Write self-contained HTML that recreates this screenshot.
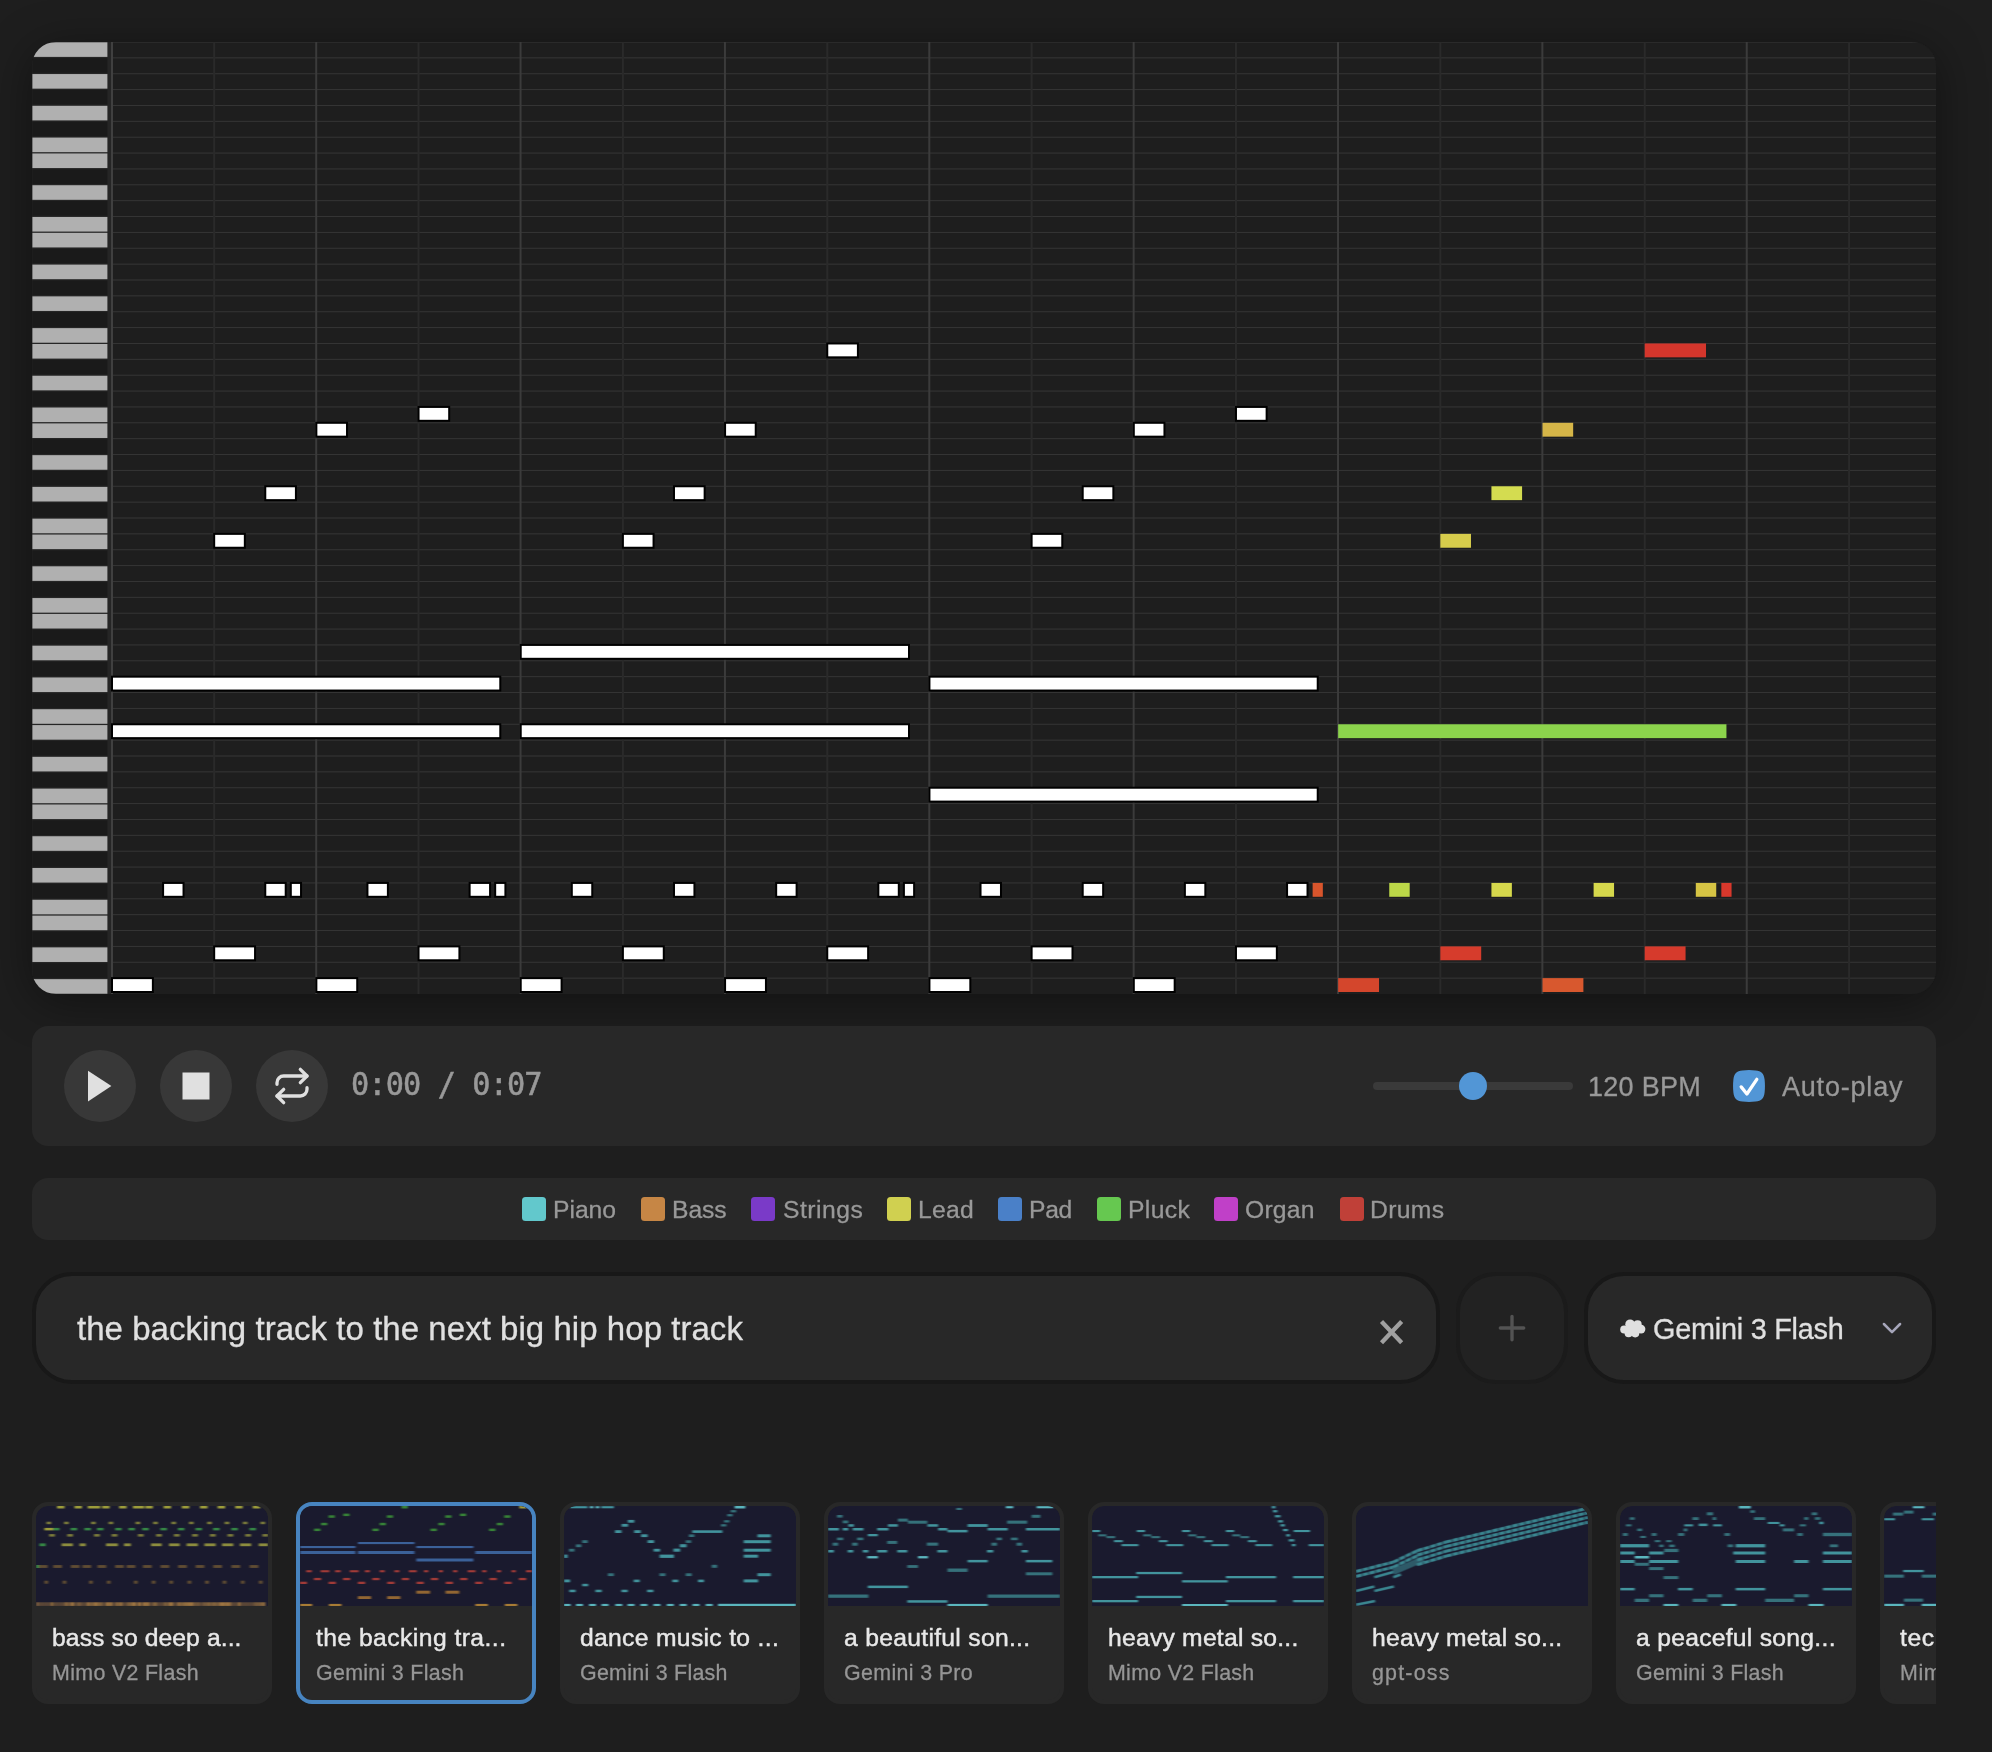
<!DOCTYPE html>
<html lang="en">
<head>
<meta charset="utf-8">
<title>Piano roll</title>
<style>
*{box-sizing:border-box;margin:0;padding:0}
html,body{width:1992px;height:1752px;overflow:hidden;background:#1e1e1e}
body{position:relative;font-family:"Liberation Sans",sans-serif;color:#e0e0e0;-webkit-font-smoothing:antialiased}
.abs{position:absolute}
.t{position:absolute;white-space:nowrap;line-height:1;display:block;will-change:transform;-webkit-text-stroke:.3px currentColor}

/* piano roll */
.rollwrap{position:absolute;left:32px;top:42px;width:1904px;height:952px;border-radius:24px;overflow:hidden;background:#1e1e1e}
.rollshadow{position:absolute;left:32px;top:42px;width:1904px;height:952px;border-radius:24px;box-shadow:0 8px 48px rgba(0,0,0,.42)}
.roll{display:block}

/* transport */
.transport{position:absolute;left:32px;top:1026px;width:1904px;height:120px;border-radius:16px;background:#282828}
.cbtn{position:absolute;top:24px;width:72px;height:72px;border-radius:50%;background:#383838}
.cbtn svg{position:absolute;left:0;top:0}
.time{top:45.3px;font-family:"DejaVu Sans Mono","Liberation Mono",monospace;font-size:28.6px;color:#999;-webkit-text-stroke:.5px #999;transform:scale(1.06,1.145);transform-origin:0 78%}
.track{position:absolute;left:1341px;top:56px;width:200px;height:8px;border-radius:4px;background:#3a3a3a}
.thumb{position:absolute;left:1426.7px;top:45.6px;width:28.6px;height:28.6px;border-radius:50%;background:#5296d6}
.bpm{top:48px;font-size:27px;color:#999}
.check{position:absolute;left:1701px;top:44px;width:32px;height:32px}
.auto{top:48px;font-size:27px;color:#999}

/* legend */
.legend{position:absolute;left:32px;top:1178px;width:1904px;height:62px;border-radius:16px;background:#282828}
.sw{position:absolute;top:19px;width:24px;height:24px;border-radius:3.5px}
.lg{top:19.5px;font-size:24.7px;color:#999;line-height:24px}

/* prompt row */
.prompt{position:absolute;left:32px;top:1272px;width:1408px;height:112px;border-radius:40px;background:#282828;border:4px solid #181818}
.prompt .txt{top:36px;font-size:33px;line-height:34px;color:#e0e0e0}
.prompt svg{position:absolute}
.plus{position:absolute;left:1456px;top:1272px;width:112px;height:112px;border-radius:40px;background:#222;border:4px solid #1b1b1b}
.plus svg{position:absolute;left:0;top:0}
.select{position:absolute;left:1584px;top:1272px;width:352px;height:112px;border-radius:40px;background:#282828;border:4px solid #181818}
.select .txt{top:38px;font-size:28.8px;line-height:30px;color:#e0e0e0}
.select svg{position:absolute}

/* cards */
.cards{position:absolute;left:32px;top:1502px;width:1904px;height:202px;overflow:hidden}
.card{position:absolute;top:0;width:240px;height:202px;border-radius:16px;background:#282828;border:4px solid #282828;overflow:hidden}
.card.sel{border-color:#4784c0}
.card svg{display:block;position:absolute;left:0;top:0;border-radius:12px 12px 0 0}
.card .ct{top:118.7px;font-size:24.7px;line-height:26px;color:#e8e8e8;font-weight:normal;-webkit-text-stroke:.45px #e8e8e8}
.card .cs{top:155.7px;font-size:21.4px;line-height:22px;color:#969696}

</style>
</head>
<body>
<div class="rollshadow"></div>
<div class="rollwrap">
<svg class="roll" width="1904" height="952" viewBox="0 0 1904 952">
<rect width="1904" height="952" fill="#1e1e1e"/>
<g fill="#363636">
<rect x="80" y="-0.5" width="1824" height="1"/>
<rect x="80" y="15.37" width="1824" height="1"/>
<rect x="80" y="31.23" width="1824" height="1"/>
<rect x="80" y="47.1" width="1824" height="1"/>
<rect x="80" y="62.97" width="1824" height="1"/>
<rect x="80" y="78.83" width="1824" height="1"/>
<rect x="80" y="94.7" width="1824" height="1"/>
<rect x="80" y="110.57" width="1824" height="1"/>
<rect x="80" y="126.43" width="1824" height="1"/>
<rect x="80" y="142.3" width="1824" height="1"/>
<rect x="80" y="158.17" width="1824" height="1"/>
<rect x="80" y="174.03" width="1824" height="1"/>
<rect x="80" y="189.9" width="1824" height="1"/>
<rect x="80" y="205.77" width="1824" height="1"/>
<rect x="80" y="221.63" width="1824" height="1"/>
<rect x="80" y="237.5" width="1824" height="1"/>
<rect x="80" y="253.37" width="1824" height="1"/>
<rect x="80" y="269.23" width="1824" height="1"/>
<rect x="80" y="285.1" width="1824" height="1"/>
<rect x="80" y="300.97" width="1824" height="1"/>
<rect x="80" y="316.83" width="1824" height="1"/>
<rect x="80" y="332.7" width="1824" height="1"/>
<rect x="80" y="348.57" width="1824" height="1"/>
<rect x="80" y="364.43" width="1824" height="1"/>
<rect x="80" y="380.3" width="1824" height="1"/>
<rect x="80" y="396.17" width="1824" height="1"/>
<rect x="80" y="412.03" width="1824" height="1"/>
<rect x="80" y="427.9" width="1824" height="1"/>
<rect x="80" y="443.77" width="1824" height="1"/>
<rect x="80" y="459.63" width="1824" height="1"/>
<rect x="80" y="475.5" width="1824" height="1"/>
<rect x="80" y="491.37" width="1824" height="1"/>
<rect x="80" y="507.23" width="1824" height="1"/>
<rect x="80" y="523.1" width="1824" height="1"/>
<rect x="80" y="538.97" width="1824" height="1"/>
<rect x="80" y="554.83" width="1824" height="1"/>
<rect x="80" y="570.7" width="1824" height="1"/>
<rect x="80" y="586.57" width="1824" height="1"/>
<rect x="80" y="602.43" width="1824" height="1"/>
<rect x="80" y="618.3" width="1824" height="1"/>
<rect x="80" y="634.17" width="1824" height="1"/>
<rect x="80" y="650.03" width="1824" height="1"/>
<rect x="80" y="665.9" width="1824" height="1"/>
<rect x="80" y="681.77" width="1824" height="1"/>
<rect x="80" y="697.63" width="1824" height="1"/>
<rect x="80" y="713.5" width="1824" height="1"/>
<rect x="80" y="729.37" width="1824" height="1"/>
<rect x="80" y="745.23" width="1824" height="1"/>
<rect x="80" y="761.1" width="1824" height="1"/>
<rect x="80" y="776.97" width="1824" height="1"/>
<rect x="80" y="792.83" width="1824" height="1"/>
<rect x="80" y="808.7" width="1824" height="1"/>
<rect x="80" y="824.57" width="1824" height="1"/>
<rect x="80" y="840.43" width="1824" height="1"/>
<rect x="80" y="856.3" width="1824" height="1"/>
<rect x="80" y="872.17" width="1824" height="1"/>
<rect x="80" y="888.03" width="1824" height="1"/>
<rect x="80" y="903.9" width="1824" height="1"/>
<rect x="80" y="919.77" width="1824" height="1"/>
<rect x="80" y="935.63" width="1824" height="1"/>
</g>
<g>
<rect x="181.18" y="0" width="2" height="952" fill="#2a2a2a"/>
<rect x="283.21" y="0" width="2" height="952" fill="#3b3b3b"/>
<rect x="385.54" y="0" width="2" height="952" fill="#2a2a2a"/>
<rect x="487.57" y="0" width="2" height="952" fill="#3b3b3b"/>
<rect x="589.9" y="0" width="2" height="952" fill="#2a2a2a"/>
<rect x="691.93" y="0" width="2" height="952" fill="#3b3b3b"/>
<rect x="794.26" y="0" width="2" height="952" fill="#2a2a2a"/>
<rect x="896.29" y="0" width="2" height="952" fill="#3b3b3b"/>
<rect x="998.62" y="0" width="2" height="952" fill="#2a2a2a"/>
<rect x="1100.65" y="0" width="2" height="952" fill="#3b3b3b"/>
<rect x="1202.98" y="0" width="2" height="952" fill="#2a2a2a"/>
<rect x="1305.01" y="0" width="2" height="952" fill="#3b3b3b"/>
<rect x="1407.34" y="0" width="2" height="952" fill="#2a2a2a"/>
<rect x="1509.37" y="0" width="2" height="952" fill="#3b3b3b"/>
<rect x="1611.7" y="0" width="2" height="952" fill="#2a2a2a"/>
<rect x="1713.73" y="0" width="2" height="952" fill="#3b3b3b"/>
<rect x="1816.06" y="0" width="2" height="952" fill="#2a2a2a"/>
</g>
<rect x="0" y="0" width="80" height="952" fill="#252525"/>
<g fill="#b0b0b0"><rect x="0.4" y="0.3" width="75" height="14.6"/><rect x="0.4" y="32.06" width="75" height="14.6"/><rect x="0.4" y="63.81" width="75" height="14.6"/><rect x="0.4" y="95.57" width="75" height="14.6"/><rect x="0.4" y="111.45" width="75" height="14.6"/><rect x="0.4" y="143.21" width="75" height="14.6"/><rect x="0.4" y="174.97" width="75" height="14.6"/><rect x="0.4" y="190.84" width="75" height="14.6"/><rect x="0.4" y="222.6" width="75" height="14.6"/><rect x="0.4" y="254.36" width="75" height="14.6"/><rect x="0.4" y="286.12" width="75" height="14.6"/><rect x="0.4" y="301.99" width="75" height="14.6"/><rect x="0.4" y="333.75" width="75" height="14.6"/><rect x="0.4" y="365.51" width="75" height="14.6"/><rect x="0.4" y="381.39" width="75" height="14.6"/><rect x="0.4" y="413.15" width="75" height="14.6"/><rect x="0.4" y="444.9" width="75" height="14.6"/><rect x="0.4" y="476.66" width="75" height="14.6"/><rect x="0.4" y="492.54" width="75" height="14.6"/><rect x="0.4" y="524.3" width="75" height="14.6"/><rect x="0.4" y="556.05" width="75" height="14.6"/><rect x="0.4" y="571.93" width="75" height="14.6"/><rect x="0.4" y="603.69" width="75" height="14.6"/><rect x="0.4" y="635.45" width="75" height="14.6"/><rect x="0.4" y="667.2" width="75" height="14.6"/><rect x="0.4" y="683.08" width="75" height="14.6"/><rect x="0.4" y="714.84" width="75" height="14.6"/><rect x="0.4" y="746.6" width="75" height="14.6"/><rect x="0.4" y="762.48" width="75" height="14.6"/><rect x="0.4" y="794.23" width="75" height="14.6"/><rect x="0.4" y="825.99" width="75" height="14.6"/><rect x="0.4" y="857.75" width="75" height="14.6"/><rect x="0.4" y="873.63" width="75" height="14.6"/><rect x="0.4" y="905.38" width="75" height="14.6"/><rect x="0.4" y="937.14" width="75" height="14.6"/></g>
<g fill="#1a1a1a"><rect x="0.4" y="16.18" width="75" height="14.6"/><rect x="0.4" y="47.94" width="75" height="14.6"/><rect x="0.4" y="79.69" width="75" height="14.6"/><rect x="0.4" y="127.33" width="75" height="14.6"/><rect x="0.4" y="159.09" width="75" height="14.6"/><rect x="0.4" y="206.72" width="75" height="14.6"/><rect x="0.4" y="238.48" width="75" height="14.6"/><rect x="0.4" y="270.24" width="75" height="14.6"/><rect x="0.4" y="317.87" width="75" height="14.6"/><rect x="0.4" y="349.63" width="75" height="14.6"/><rect x="0.4" y="397.27" width="75" height="14.6"/><rect x="0.4" y="429.02" width="75" height="14.6"/><rect x="0.4" y="460.78" width="75" height="14.6"/><rect x="0.4" y="508.42" width="75" height="14.6"/><rect x="0.4" y="540.17" width="75" height="14.6"/><rect x="0.4" y="587.81" width="75" height="14.6"/><rect x="0.4" y="619.57" width="75" height="14.6"/><rect x="0.4" y="651.33" width="75" height="14.6"/><rect x="0.4" y="698.96" width="75" height="14.6"/><rect x="0.4" y="730.72" width="75" height="14.6"/><rect x="0.4" y="778.35" width="75" height="14.6"/><rect x="0.4" y="810.11" width="75" height="14.6"/><rect x="0.4" y="841.87" width="75" height="14.6"/><rect x="0.4" y="889.51" width="75" height="14.6"/><rect x="0.4" y="921.26" width="75" height="14.6"/></g>
<rect x="79" y="0" width="2" height="952" fill="#404040"/>
<g fill="#fff" stroke="#000" stroke-width="2"><rect x="182.18" y="491.87" width="30.65" height="13.87"/><rect x="233.27" y="444.27" width="30.65" height="13.87"/><rect x="284.36" y="380.8" width="30.65" height="13.87"/><rect x="386.54" y="364.93" width="30.65" height="13.87"/><rect x="590.9" y="491.87" width="30.65" height="13.87"/><rect x="641.99" y="444.27" width="30.65" height="13.87"/><rect x="693.08" y="380.8" width="30.65" height="13.87"/><rect x="795.26" y="301.47" width="30.65" height="13.87"/><rect x="999.62" y="491.87" width="30.65" height="13.87"/><rect x="1050.71" y="444.27" width="30.65" height="13.87"/><rect x="1101.8" y="380.8" width="30.65" height="13.87"/><rect x="1203.98" y="364.93" width="30.65" height="13.87"/><rect x="80" y="634.67" width="388.28" height="13.87"/><rect x="80" y="682.27" width="388.28" height="13.87"/><rect x="488.72" y="602.93" width="388.28" height="13.87"/><rect x="488.72" y="682.27" width="388.28" height="13.87"/><rect x="897.44" y="634.67" width="388.28" height="13.87"/><rect x="897.44" y="745.73" width="388.28" height="13.87"/><rect x="131.09" y="840.93" width="20.44" height="13.87"/><rect x="233.27" y="840.93" width="20.44" height="13.87"/><rect x="335.45" y="840.93" width="20.44" height="13.87"/><rect x="437.63" y="840.93" width="20.44" height="13.87"/><rect x="539.81" y="840.93" width="20.44" height="13.87"/><rect x="641.99" y="840.93" width="20.44" height="13.87"/><rect x="744.17" y="840.93" width="20.44" height="13.87"/><rect x="846.35" y="840.93" width="20.44" height="13.87"/><rect x="948.53" y="840.93" width="20.44" height="13.87"/><rect x="1050.71" y="840.93" width="20.44" height="13.87"/><rect x="1152.89" y="840.93" width="20.44" height="13.87"/><rect x="1255.07" y="840.93" width="20.44" height="13.87"/><rect x="258.81" y="840.93" width="10.22" height="13.87"/><rect x="463.18" y="840.93" width="10.22" height="13.87"/><rect x="871.9" y="840.93" width="10.22" height="13.87"/><rect x="182.18" y="904.4" width="40.87" height="13.87"/><rect x="386.54" y="904.4" width="40.87" height="13.87"/><rect x="590.9" y="904.4" width="40.87" height="13.87"/><rect x="795.26" y="904.4" width="40.87" height="13.87"/><rect x="999.62" y="904.4" width="40.87" height="13.87"/><rect x="1203.98" y="904.4" width="40.87" height="13.87"/><rect x="80" y="936.13" width="40.87" height="13.87"/><rect x="284.36" y="936.13" width="40.87" height="13.87"/><rect x="488.72" y="936.13" width="40.87" height="13.87"/><rect x="693.08" y="936.13" width="40.87" height="13.87"/><rect x="897.44" y="936.13" width="40.87" height="13.87"/><rect x="1101.8" y="936.13" width="40.87" height="13.87"/></g>
<g><rect x="1408.34" y="491.87" width="30.65" height="13.87" fill="#d6cc4c"/><rect x="1459.43" y="444.27" width="30.65" height="13.87" fill="#d4dc50"/><rect x="1510.52" y="380.8" width="30.65" height="13.87" fill="#d6b648"/><rect x="1612.7" y="301.47" width="61.31" height="13.87" fill="#d4362c"/><rect x="1306.16" y="682.27" width="388.28" height="13.87" fill="#8cd44c"/><rect x="1357.25" y="840.93" width="20.44" height="13.87" fill="#bcd848"/><rect x="1459.43" y="840.93" width="20.44" height="13.87" fill="#d6d84c"/><rect x="1561.61" y="840.93" width="20.44" height="13.87" fill="#d6d84c"/><rect x="1663.79" y="840.93" width="20.44" height="13.87" fill="#d6c444"/><rect x="1280.62" y="840.93" width="10.22" height="13.87" fill="#d8552c"/><rect x="1689.34" y="840.93" width="10.22" height="13.87" fill="#d8382c"/><rect x="1408.34" y="904.4" width="40.87" height="13.87" fill="#d63c2c"/><rect x="1612.7" y="904.4" width="40.87" height="13.87" fill="#d63a2c"/><rect x="1306.16" y="936.13" width="40.87" height="13.87" fill="#d4462c"/><rect x="1510.52" y="936.13" width="40.87" height="13.87" fill="#d8582e"/></g>
</svg>
</div>

<div class="transport">
  <div class="cbtn" style="left:32px"><svg width="72" height="72" viewBox="0 0 72 72"><path d="M24 20.8 L47.4 36 L24 51.4 Z" fill="#e0e0e0"/></svg></div>
  <div class="cbtn" style="left:128px"><svg width="72" height="72" viewBox="0 0 72 72"><rect x="22.5" y="22.5" width="27" height="27" fill="#e0e0e0"/></svg></div>
  <div class="cbtn" style="left:224px"><svg width="72" height="72" viewBox="0 0 72 72"><g transform="translate(16 16) scale(1.6667)" fill="none" stroke="#e0e0e0" stroke-width="2" stroke-linecap="round" stroke-linejoin="round"><path d="m17 2 4 4-4 4"/><path d="M3 11v-1a4 4 0 0 1 4-4h14"/><path d="m7 22-4-4 4-4"/><path d="M21 13v1a4 4 0 0 1-4 4H3"/></g></svg></div>
  <span class="t time" style="left:319.4px;letter-spacing:-0.86px">0:00 / 0:07</span>
  <div class="track"></div>
  <div class="thumb"></div>
  <span class="t bpm" style="left:1555.6px;letter-spacing:0.28px">120 BPM</span>
  <svg class="check" viewBox="0 0 32 32"><path d="M9.5 .4 Q16 -.3 22.5 .4 C28.5 1 31 3.5 31.6 9.5 Q32.3 16 31.6 22.5 C31 28.5 28.5 31 22.5 31.6 Q16 32.3 9.5 31.6 C3.5 31 1 28.5 .4 22.5 Q-.3 16 .4 9.5 C1 3.5 3.5 1 9.5 .4 Z" fill="#5296d6"/><path d="M8.2 16.9 L13.9 24 L23.8 9.3" fill="none" stroke="#fff" stroke-width="3.3" stroke-linecap="round" stroke-linejoin="round"/></svg>
  <span class="t auto" style="left:1750px;letter-spacing:0.8px">Auto-play</span>
</div>

<div class="legend">
  <i class="sw" style="left:490px;background:#62c8cc"></i><span class="t lg" style="left:521.4px;letter-spacing:-0.03px">Piano</span>
  <i class="sw" style="left:609px;background:#c68645"></i><span class="t lg" style="left:639.8px;letter-spacing:-0.06px">Bass</span>
  <i class="sw" style="left:719px;background:#7a3ac8"></i><span class="t lg" style="left:750.6px;letter-spacing:0.5px">Strings</span>
  <i class="sw" style="left:855px;background:#d0d050"></i><span class="t lg" style="left:886px;letter-spacing:0.27px">Lead</span>
  <i class="sw" style="left:966px;background:#4a80c8"></i><span class="t lg" style="left:996.8px;letter-spacing:-0.3px">Pad</span>
  <i class="sw" style="left:1065px;background:#66c850"></i><span class="t lg" style="left:1095.6px;letter-spacing:0.35px">Pluck</span>
  <i class="sw" style="left:1182px;background:#c040c8"></i><span class="t lg" style="left:1213.4px;letter-spacing:0.2px">Organ</span>
  <i class="sw" style="left:1308px;background:#c04038"></i><span class="t lg" style="left:1338.2px;letter-spacing:0.34px">Drums</span>
</div>

<div class="prompt">
  <span class="t txt" style="left:41px;letter-spacing:0.04px">the backing track to the next big hip hop track</span>
  <svg style="left:1340px;top:40px" width="32" height="32" viewBox="0 0 32 32"><path d="M5.5 5.5 L25.65 26.7 M25.65 5.5 L5.5 26.7" stroke="#a0a0a0" stroke-width="4.3" fill="none"/></svg>
</div>
<div class="plus"><svg width="104" height="104" viewBox="0 0 104 104"><path d="M52 40.3 V63.7 M40.3 52 H63.7" stroke="#535353" stroke-width="3.35" stroke-linecap="round" fill="none"/></svg></div>
<div class="select">
  <svg style="left:32px;top:43px" width="26" height="19" viewBox="0 0 26 19"><g fill="#e0e0e0"><circle cx="10.1" cy="5.2" r="4.8"/><circle cx="17.6" cy="5.4" r="4.1"/><circle cx="4.2" cy="10.6" r="4"/><circle cx="21.1" cy="10.1" r="4.3"/><circle cx="8.6" cy="14.3" r="4"/><circle cx="15.2" cy="14.3" r="4.1"/><circle cx="12.6" cy="9.8" r="6.3"/></g></svg>
  <span class="t txt" style="left:64.8px;letter-spacing:-0.22px">Gemini 3 Flash</span>
  <svg style="left:294px;top:46px" width="22" height="14" viewBox="0 0 22 14"><path d="M1.9 2 L10 10.1 L18.1 2" fill="none" stroke="#a6a6ba" stroke-width="2.5" stroke-linecap="round" stroke-linejoin="round"/></svg>
</div>

<div class="cards">
<svg width="0" height="0" style="position:absolute"><defs><filter id="tb" x="-5%" y="-20%" width="110%" height="140%"><feGaussianBlur stdDeviation="1.1 0.7"/></filter></defs></svg>
<div class="card" style="left:0px"><svg width="232" height="100" viewBox="0 0 232 100"><rect width="232" height="100" fill="#1a1a2e"/><g filter="url(#tb)" opacity=".72"><rect x="21" y="0" width="7.5" height="2.5" fill="#d0d040"/><rect x="38.5" y="0" width="7.5" height="2.5" fill="#d0d040"/><rect x="66.1" y="0" width="7.5" height="2.5" fill="#d0d040"/><rect x="83.1" y="0" width="7.5" height="2.5" fill="#d0d040"/><rect x="109.4" y="0" width="7.5" height="2.5" fill="#d0d040"/><rect x="127.6" y="0" width="7.5" height="2.5" fill="#d0d040"/><rect x="145.8" y="0" width="7.5" height="2.5" fill="#d0d040"/><rect x="164" y="0" width="7.5" height="2.5" fill="#d0d040"/><rect x="181.6" y="0" width="7.5" height="2.5" fill="#d0d040"/><rect x="199.2" y="0" width="7.5" height="2.5" fill="#d0d040"/><rect x="216.7" y="0" width="7.5" height="2.5" fill="#d0d040"/><rect x="51.7" y="0" width="12.6" height="2.5" fill="#d0d040"/><rect x="96.9" y="0" width="11.3" height="2.5" fill="#d0d040"/><rect x="10.4" y="15.7" width="4.8" height="2.5" fill="#a0a040"/><rect x="28" y="15.7" width="4.8" height="2.5" fill="#a0a040"/><rect x="55" y="15.7" width="4.8" height="2.5" fill="#a0a040"/><rect x="72.5" y="15.7" width="4.8" height="2.5" fill="#a0a040"/><rect x="99.5" y="15.7" width="4.8" height="2.5" fill="#a0a040"/><rect x="117.1" y="15.7" width="4.8" height="2.5" fill="#a0a040"/><rect x="135.3" y="15.7" width="4.8" height="2.5" fill="#a0a040"/><rect x="152.9" y="15.7" width="4.8" height="2.5" fill="#a0a040"/><rect x="171.1" y="15.7" width="4.8" height="2.5" fill="#a0a040"/><rect x="188.6" y="15.7" width="4.8" height="2.5" fill="#a0a040"/><rect x="206.8" y="15.7" width="4.8" height="2.5" fill="#a0a040"/><rect x="224.4" y="15.7" width="4.8" height="2.5" fill="#a0a040"/><rect x="8.4" y="21.9" width="8.8" height="2.5" fill="#d0d040"/><rect x="17.2" y="21.9" width="6.3" height="2.5" fill="#40b050"/><rect x="34.6" y="21.9" width="6.5" height="2.5" fill="#40b050"/><rect x="48.4" y="21.9" width="6.5" height="2.5" fill="#40b050"/><rect x="61" y="21.9" width="6.5" height="2.5" fill="#40b050"/><rect x="79.2" y="21.9" width="6.5" height="2.5" fill="#40b050"/><rect x="92.4" y="21.9" width="6.5" height="2.5" fill="#40b050"/><rect x="106.2" y="21.9" width="6.5" height="2.5" fill="#40b050"/><rect x="124.4" y="21.9" width="6.5" height="2.5" fill="#40b050"/><rect x="141.9" y="21.9" width="6.5" height="2.5" fill="#40b050"/><rect x="159.5" y="21.9" width="6.5" height="2.5" fill="#40b050"/><rect x="177.1" y="21.9" width="6.5" height="2.5" fill="#40b050"/><rect x="195.3" y="21.9" width="6.5" height="2.5" fill="#40b050"/><rect x="213.5" y="21.9" width="6.5" height="2.5" fill="#40b050"/><rect x="13.1" y="28.1" width="5.8" height="2.5" fill="#a0a040"/><rect x="31.2" y="28.1" width="5.8" height="2.5" fill="#a0a040"/><rect x="58" y="28.1" width="5.8" height="2.5" fill="#a0a040"/><rect x="75.6" y="28.1" width="5.8" height="2.5" fill="#a0a040"/><rect x="101.9" y="28.1" width="5.8" height="2.5" fill="#a0a040"/><rect x="120.1" y="28.1" width="5.8" height="2.5" fill="#a0a040"/><rect x="137.9" y="28.1" width="5.8" height="2.5" fill="#a0a040"/><rect x="156.1" y="28.1" width="5.8" height="2.5" fill="#a0a040"/><rect x="173.9" y="28.1" width="5.8" height="2.5" fill="#a0a040"/><rect x="191.5" y="28.1" width="5.8" height="2.5" fill="#a0a040"/><rect x="209.2" y="28.1" width="5.8" height="2.5" fill="#a0a040"/><rect x="226.4" y="28.1" width="5.8" height="2.5" fill="#a0a040"/><rect x="3.4" y="37.4" width="6.3" height="2.8" fill="#40b050"/><rect x="25.6" y="37.4" width="11.3" height="2.8" fill="#b8b844"/><rect x="43.5" y="37.4" width="6.3" height="2.8" fill="#b8b844"/><rect x="70" y="37.4" width="11.9" height="2.8" fill="#b8b844"/><rect x="88" y="37.4" width="6.9" height="2.8" fill="#b8b844"/><rect x="115" y="37.4" width="10.7" height="2.8" fill="#b8b844"/><rect x="133" y="37.4" width="10.7" height="2.8" fill="#b8b844"/><rect x="150.6" y="37.4" width="11.3" height="2.8" fill="#b8b844"/><rect x="168.4" y="37.4" width="11.3" height="2.8" fill="#b8b844"/><rect x="186" y="37.4" width="11.3" height="2.8" fill="#b8b844"/><rect x="203.9" y="37.4" width="11.3" height="2.8" fill="#b8b844"/><rect x="222.7" y="37.4" width="9.4" height="2.8" fill="#b8b844"/><rect x="0" y="59" width="4.6" height="3" fill="#40b050"/><rect x="2.8" y="59.1" width="8.8" height="2.8" fill="#7c6034"/><rect x="17.2" y="59.1" width="8.8" height="2.8" fill="#7c6034"/><rect x="34.8" y="59.1" width="8.8" height="2.8" fill="#7c6034"/><rect x="46.4" y="59.1" width="8.8" height="2.8" fill="#7c6034"/><rect x="61.5" y="59.1" width="8.8" height="2.8" fill="#7c6034"/><rect x="79.1" y="59.1" width="8.8" height="2.8" fill="#7c6034"/><rect x="90.6" y="59.1" width="8.8" height="2.8" fill="#7c6034"/><rect x="106.9" y="59.1" width="8.8" height="2.8" fill="#7c6034"/><rect x="124.5" y="59.1" width="8.8" height="2.8" fill="#7c6034"/><rect x="142.1" y="59.1" width="8.8" height="2.8" fill="#7c6034"/><rect x="159.6" y="59.1" width="8.8" height="2.8" fill="#7c6034"/><rect x="177.2" y="59.1" width="8.8" height="2.8" fill="#7c6034"/><rect x="195.4" y="59.1" width="8.8" height="2.8" fill="#7c6034"/><rect x="213.6" y="59.1" width="8.8" height="2.8" fill="#7c6034"/><rect x="8.4" y="74.7" width="3.8" height="3" fill="#7c6034"/><rect x="26.6" y="74.7" width="3.8" height="3" fill="#7c6034"/><rect x="53" y="74.7" width="3.8" height="3" fill="#7c6034"/><rect x="70.8" y="74.7" width="3.8" height="3" fill="#7c6034"/><rect x="97.9" y="74.7" width="3.8" height="3" fill="#7c6034"/><rect x="115.7" y="74.7" width="3.8" height="3" fill="#7c6034"/><rect x="133.3" y="74.7" width="3.8" height="3" fill="#7c6034"/><rect x="151.5" y="74.7" width="3.8" height="3" fill="#7c6034"/><rect x="169.1" y="74.7" width="3.8" height="3" fill="#7c6034"/><rect x="186.6" y="74.7" width="3.8" height="3" fill="#7c6034"/><rect x="204.8" y="74.7" width="3.8" height="3" fill="#7c6034"/><rect x="222.8" y="74.7" width="3.8" height="3" fill="#7c6034"/><rect x="0" y="96.3" width="3.3" height="3.6" fill="#d09848" opacity="0.7"/><rect x="3.3" y="96.3" width="4.3" height="3.6" fill="#d09848" opacity="0.5"/><rect x="7.5" y="96.3" width="1.8" height="3.6" fill="#d09848" opacity="0.5"/><rect x="9.3" y="96.3" width="3.3" height="3.6" fill="#d09848" opacity="0.5"/><rect x="12.6" y="96.3" width="2.5" height="3.6" fill="#d09848" opacity="0.5"/><rect x="15.1" y="96.3" width="1.8" height="3.6" fill="#d09848"/><rect x="16.8" y="96.3" width="4.3" height="3.6" fill="#d09848" opacity="0.5"/><rect x="21.1" y="96.3" width="2.5" height="3.6" fill="#d09848" opacity="0.5"/><rect x="23.6" y="96.3" width="4.3" height="3.6" fill="#d09848" opacity="0.5"/><rect x="27.9" y="96.3" width="1.8" height="3.6" fill="#d09848" opacity="0.7"/><rect x="29.6" y="96.3" width="1.8" height="3.6" fill="#d09848"/><rect x="31.4" y="96.3" width="1.8" height="3.6" fill="#d09848" opacity="0.7"/><rect x="33.1" y="96.3" width="1.8" height="3.6" fill="#d09848" opacity="0.7"/><rect x="34.9" y="96.3" width="3.3" height="3.6" fill="#d09848"/><rect x="38.2" y="96.3" width="2.5" height="3.6" fill="#d09848" opacity="0.5"/><rect x="40.7" y="96.3" width="3.3" height="3.6" fill="#d09848" opacity="0.7"/><rect x="43.9" y="96.3" width="1.8" height="3.6" fill="#d09848" opacity="0.7"/><rect x="45.7" y="96.3" width="3.3" height="3.6" fill="#d09848" opacity="0.5"/><rect x="48.9" y="96.3" width="1.8" height="3.6" fill="#d09848" opacity="0.5"/><rect x="50.7" y="96.3" width="2.5" height="3.6" fill="#d09848"/><rect x="53.2" y="96.3" width="4.3" height="3.6" fill="#d09848" opacity="0.8"/><rect x="57.5" y="96.3" width="4.3" height="3.6" fill="#d09848"/><rect x="61.7" y="96.3" width="3.3" height="3.6" fill="#d09848" opacity="0.8"/><rect x="65" y="96.3" width="2.5" height="3.6" fill="#d09848" opacity="0.7"/><rect x="67.5" y="96.3" width="2.5" height="3.6" fill="#d09848" opacity="0.5"/><rect x="70" y="96.3" width="3.3" height="3.6" fill="#d09848"/><rect x="73.3" y="96.3" width="3.3" height="3.6" fill="#d09848"/><rect x="76.6" y="96.3" width="3.3" height="3.6" fill="#d09848" opacity="0.5"/><rect x="79.8" y="96.3" width="1.8" height="3.6" fill="#d09848"/><rect x="81.6" y="96.3" width="2.5" height="3.6" fill="#d09848" opacity="0.8"/><rect x="84.1" y="96.3" width="2.5" height="3.6" fill="#d09848"/><rect x="86.6" y="96.3" width="4.3" height="3.6" fill="#d09848" opacity="0.5"/><rect x="90.9" y="96.3" width="1.8" height="3.6" fill="#d09848" opacity="0.8"/><rect x="92.6" y="96.3" width="3.3" height="3.6" fill="#d09848" opacity="0.8"/><rect x="95.9" y="96.3" width="4.3" height="3.6" fill="#d09848"/><rect x="100.2" y="96.3" width="1.8" height="3.6" fill="#d09848" opacity="0.5"/><rect x="101.9" y="96.3" width="3.3" height="3.6" fill="#d09848"/><rect x="105.2" y="96.3" width="1.8" height="3.6" fill="#d09848" opacity="0.5"/><rect x="106.9" y="96.3" width="3.3" height="3.6" fill="#d09848"/><rect x="110.2" y="96.3" width="3.3" height="3.6" fill="#d09848"/><rect x="113.5" y="96.3" width="3.3" height="3.6" fill="#d09848" opacity="0.5"/><rect x="116.7" y="96.3" width="4.3" height="3.6" fill="#d09848" opacity="0.8"/><rect x="121" y="96.3" width="2.5" height="3.6" fill="#d09848" opacity="0.5"/><rect x="123.5" y="96.3" width="4.3" height="3.6" fill="#d09848" opacity="0.5"/><rect x="127.8" y="96.3" width="2.5" height="3.6" fill="#d09848" opacity="0.8"/><rect x="130.3" y="96.3" width="2.5" height="3.6" fill="#d09848" opacity="0.7"/><rect x="132.8" y="96.3" width="4.3" height="3.6" fill="#d09848"/><rect x="137" y="96.3" width="4.3" height="3.6" fill="#d09848" opacity="0.5"/><rect x="141.3" y="96.3" width="2.5" height="3.6" fill="#d09848"/><rect x="143.8" y="96.3" width="4.3" height="3.6" fill="#d09848" opacity="0.8"/><rect x="148.1" y="96.3" width="2.5" height="3.6" fill="#d09848"/><rect x="150.6" y="96.3" width="3.3" height="3.6" fill="#d09848"/><rect x="153.9" y="96.3" width="3.3" height="3.6" fill="#d09848"/><rect x="157.1" y="96.3" width="2.5" height="3.6" fill="#d09848" opacity="0.7"/><rect x="159.6" y="96.3" width="1.8" height="3.6" fill="#d09848" opacity="0.7"/><rect x="161.4" y="96.3" width="2.5" height="3.6" fill="#d09848" opacity="0.7"/><rect x="163.9" y="96.3" width="2.5" height="3.6" fill="#d09848" opacity="0.5"/><rect x="166.4" y="96.3" width="4.3" height="3.6" fill="#d09848" opacity="0.7"/><rect x="170.7" y="96.3" width="3.3" height="3.6" fill="#d09848" opacity="0.8"/><rect x="173.9" y="96.3" width="1.8" height="3.6" fill="#d09848" opacity="0.7"/><rect x="175.7" y="96.3" width="4.3" height="3.6" fill="#d09848" opacity="0.8"/><rect x="180" y="96.3" width="3.3" height="3.6" fill="#d09848" opacity="0.7"/><rect x="183.2" y="96.3" width="1.8" height="3.6" fill="#d09848"/><rect x="185" y="96.3" width="4.3" height="3.6" fill="#d09848"/><rect x="189.3" y="96.3" width="4.3" height="3.6" fill="#d09848"/><rect x="193.5" y="96.3" width="1.8" height="3.6" fill="#d09848"/><rect x="195.3" y="96.3" width="4.3" height="3.6" fill="#d09848" opacity="0.5"/><rect x="199.5" y="96.3" width="2.5" height="3.6" fill="#d09848" opacity="0.5"/><rect x="202.1" y="96.3" width="2.5" height="3.6" fill="#d09848"/><rect x="204.6" y="96.3" width="2.5" height="3.6" fill="#d09848" opacity="0.5"/><rect x="207.1" y="96.3" width="3.3" height="3.6" fill="#d09848" opacity="0.5"/><rect x="210.3" y="96.3" width="1.8" height="3.6" fill="#d09848" opacity="0.5"/><rect x="212.1" y="96.3" width="2.5" height="3.6" fill="#d09848" opacity="0.5"/><rect x="214.6" y="96.3" width="3.3" height="3.6" fill="#d09848" opacity="0.5"/><rect x="217.9" y="96.3" width="1.8" height="3.6" fill="#d09848" opacity="0.7"/><rect x="219.6" y="96.3" width="4.3" height="3.6" fill="#d09848" opacity="0.7"/><rect x="223.9" y="96.3" width="3.3" height="3.6" fill="#d09848" opacity="0.8"/><rect x="227.2" y="96.3" width="2.1" height="3.6" fill="#d09848"/></g></svg><span class="t ct" style="left:16px;letter-spacing:0.09px">bass so deep a...</span><span class="t cs" style="left:16px;letter-spacing:0.33px">Mimo V2 Flash</span></div>
<div class="card sel" style="left:264px"><svg width="232" height="100" viewBox="0 0 232 100"><rect width="232" height="100" fill="#1a1a2e"/><g filter="url(#tb)" opacity=".78"><rect x="14.1" y="22.6" width="6.3" height="2.5" fill="#3fa03a"/><rect x="21" y="16.8" width="6.3" height="2.5" fill="#3fa03a"/><rect x="28.5" y="9.3" width="6.3" height="2.5" fill="#3fa03a"/><rect x="43.2" y="7.6" width="6.3" height="2.5" fill="#3fa03a"/><rect x="72.4" y="22.6" width="6.3" height="2.5" fill="#3fa03a"/><rect x="79.6" y="16.8" width="6.3" height="2.5" fill="#3fa03a"/><rect x="86.8" y="9.3" width="6.3" height="2.5" fill="#3fa03a"/><rect x="101.5" y="0" width="6.3" height="2.5" fill="#3fa03a"/><rect x="130.5" y="22.6" width="6.3" height="2.5" fill="#3fa03a"/><rect x="138.3" y="16.8" width="6.3" height="2.5" fill="#3fa03a"/><rect x="145.2" y="9.3" width="6.3" height="2.5" fill="#3fa03a"/><rect x="159.9" y="7.6" width="6.3" height="2.5" fill="#3fa03a"/><rect x="189.1" y="22.6" width="6.3" height="2.5" fill="#3fa03a"/><rect x="196.7" y="16.8" width="6.3" height="2.5" fill="#3fa03a"/><rect x="204.2" y="9.3" width="6.3" height="2.5" fill="#3fa03a"/><rect x="219.3" y="0" width="7.5" height="2.5" fill="#c8c040"/><rect x="0" y="40" width="55.5" height="2.1" fill="#4474b8"/><rect x="0" y="45" width="55.5" height="3" fill="#4474b8"/><rect x="58" y="36" width="56.5" height="2.1" fill="#4474b8"/><rect x="58" y="45" width="56.5" height="3" fill="#4474b8"/><rect x="116.3" y="40" width="57.1" height="2.1" fill="#4474b8"/><rect x="116.3" y="52.5" width="57.1" height="3" fill="#4474b8"/><rect x="175.3" y="45" width="56.7" height="3" fill="#4474b8"/><rect x="6.2" y="64.2" width="5.6" height="2.1" fill="#c8443a"/><rect x="20.6" y="64.2" width="8.8" height="2.1" fill="#c8443a"/><rect x="35.1" y="64.2" width="5.6" height="2.1" fill="#c8443a"/><rect x="49.8" y="64.2" width="8.8" height="2.1" fill="#c8443a"/><rect x="64.9" y="64.2" width="5" height="2.1" fill="#c8443a"/><rect x="79.7" y="64.2" width="5" height="2.1" fill="#c8443a"/><rect x="94.4" y="64.2" width="5" height="2.1" fill="#c8443a"/><rect x="108.9" y="64.2" width="7.8" height="2.1" fill="#c8443a"/><rect x="124" y="64.2" width="4.3" height="2.1" fill="#c8443a"/><rect x="138.7" y="64.2" width="4.3" height="2.1" fill="#c8443a"/><rect x="153.1" y="64.2" width="4.3" height="2.1" fill="#c8443a"/><rect x="167.7" y="64.2" width="7.8" height="2.1" fill="#c8443a"/><rect x="182.2" y="64.2" width="4.3" height="2.1" fill="#c8443a"/><rect x="196.8" y="64.2" width="4.3" height="2.1" fill="#c8443a"/><rect x="211.5" y="64.2" width="4.3" height="2.1" fill="#c8443a"/><rect x="226" y="64.2" width="6" height="2.1" fill="#c8443a"/><rect x="13.9" y="71.9" width="7.3" height="2.3" fill="#c8443a"/><rect x="43" y="71.9" width="7.3" height="2.3" fill="#c8443a"/><rect x="72.3" y="71.9" width="7.3" height="2.3" fill="#c8443a"/><rect x="101.8" y="71.9" width="7.3" height="2.3" fill="#c8443a"/><rect x="130.9" y="71.9" width="7.3" height="2.3" fill="#c8443a"/><rect x="160.1" y="71.9" width="7.3" height="2.3" fill="#c8443a"/><rect x="189.5" y="71.9" width="7.3" height="2.3" fill="#c8443a"/><rect x="218.9" y="71.9" width="7.3" height="2.3" fill="#c8443a"/><rect x="-0.3" y="75.7" width="7.3" height="2.3" fill="#c8443a"/><rect x="28.6" y="75.7" width="7.3" height="2.3" fill="#c8443a"/><rect x="57.9" y="75.7" width="7.3" height="2.3" fill="#c8443a"/><rect x="87.2" y="75.7" width="7.3" height="2.3" fill="#c8443a"/><rect x="116.5" y="75.7" width="7.3" height="2.3" fill="#c8443a"/><rect x="145.7" y="75.7" width="7.3" height="2.3" fill="#c8443a"/><rect x="175.1" y="75.7" width="7.3" height="2.3" fill="#c8443a"/><rect x="204.3" y="75.7" width="7.3" height="2.3" fill="#c8443a"/><rect x="116.3" y="84.7" width="13.8" height="3" fill="#b47c34"/><rect x="145.5" y="84.7" width="13.8" height="3" fill="#b47c34"/><rect x="57.9" y="90.2" width="13.2" height="2.8" fill="#b47c34"/><rect x="87.2" y="90.2" width="13.2" height="2.8" fill="#b47c34"/><rect x="0" y="97.9" width="12.2" height="2.5" fill="#d09838"/><rect x="28.9" y="97.9" width="12.6" height="2.5" fill="#d09838"/><rect x="175.3" y="97.9" width="12.6" height="2.5" fill="#d09838"/><rect x="204.8" y="97.9" width="12.6" height="2.5" fill="#d09838"/></g></svg><span class="t ct" style="left:16px;letter-spacing:0.44px">the backing tra...</span><span class="t cs" style="left:16px;letter-spacing:0.31px">Gemini 3 Flash</span></div>
<div class="card" style="left:528px"><svg width="232" height="100" viewBox="0 0 232 100"><rect width="232" height="100" fill="#1a1a2e"/><g filter="url(#tb)" opacity=".86"><rect x="5.9" y="0.2" width="17.6" height="2.1" fill="#4aa8b0"/><rect x="25.7" y="0.2" width="3.8" height="2.1" fill="#66d0d6"/><rect x="31.6" y="0.2" width="3.8" height="2.1" fill="#66d0d6"/><rect x="37.3" y="0.2" width="12.6" height="2.1" fill="#4aa8b0"/><rect x="0" y="48.6" width="3.6" height="3.3" fill="#4aa8b0"/><rect x="5" y="42.8" width="5.5" height="2.8" fill="#3a8088"/><rect x="11.9" y="38.4" width="5.5" height="2.8" fill="#3a8088"/><rect x="18.2" y="34.2" width="5.5" height="2.8" fill="#3a8088"/><rect x="51" y="24.2" width="6.5" height="2.8" fill="#4aa8b0"/><rect x="57.6" y="17.9" width="6.5" height="2.8" fill="#4aa8b0"/><rect x="63.8" y="13.9" width="6.5" height="2.8" fill="#4aa8b0"/><rect x="70.2" y="24.2" width="6.5" height="2.8" fill="#4aa8b0"/><rect x="77.1" y="28.3" width="6.5" height="2.8" fill="#4aa8b0"/><rect x="83.6" y="34.2" width="6.5" height="2.8" fill="#4aa8b0"/><rect x="89.6" y="42.8" width="6.5" height="2.8" fill="#4aa8b0"/><rect x="95.6" y="48.6" width="14.4" height="3.3" fill="#4aa8b0"/><rect x="109.4" y="42.6" width="6.8" height="3.1" fill="#4aa8b0"/><rect x="115.8" y="38.2" width="6.8" height="3.1" fill="#4aa8b0"/><rect x="121.7" y="34.3" width="5.5" height="2.6" fill="#3a8088"/><rect x="124.9" y="28.4" width="5.5" height="2.6" fill="#3a8088"/><rect x="128.3" y="24.3" width="30.1" height="2.6" fill="#4aa8b0"/><rect x="156.9" y="18.2" width="5.5" height="2.3" fill="#3a8088"/><rect x="160" y="14.2" width="5.5" height="2.3" fill="#3a8088"/><rect x="163.2" y="8.1" width="5.5" height="2.3" fill="#3a8088"/><rect x="166.7" y="4.1" width="5.5" height="2.3" fill="#3a8088"/><rect x="170.6" y="0" width="10.7" height="2.5" fill="#66d0d6"/><rect x="193.5" y="28.3" width="13.2" height="3" fill="#4aa8b0"/><rect x="179.7" y="34.2" width="27" height="3" fill="#4aa8b0"/><rect x="179.7" y="42.7" width="27" height="3" fill="#4aa8b0"/><rect x="179.7" y="48.7" width="14.4" height="3" fill="#4aa8b0"/><rect x="193.5" y="67.2" width="13.2" height="3" fill="#4aa8b0"/><rect x="179.7" y="73.4" width="14.4" height="3" fill="#4aa8b0"/><rect x="147.7" y="58.8" width="5.5" height="3" fill="#3a8088"/><rect x="43.9" y="67.3" width="6" height="2.8" fill="#3a8088"/><rect x="95.5" y="67.3" width="6" height="2.8" fill="#3a8088"/><rect x="121.7" y="67.3" width="6" height="2.8" fill="#3a8088"/><rect x="0" y="73.5" width="6.1" height="2.8" fill="#4aa8b0"/><rect x="69.7" y="73.6" width="6" height="2.6" fill="#4aa8b0"/><rect x="108.3" y="73.6" width="6" height="2.6" fill="#4aa8b0"/><rect x="134" y="73.6" width="6" height="2.6" fill="#4aa8b0"/><rect x="18.2" y="77.8" width="6" height="2.5" fill="#4aa8b0"/><rect x="5.3" y="83.7" width="6.3" height="2.5" fill="#4aa8b0"/><rect x="31.4" y="83.7" width="6.3" height="2.5" fill="#4aa8b0"/><rect x="57.4" y="83.7" width="6.3" height="2.5" fill="#4aa8b0"/><rect x="83.1" y="83.7" width="6.3" height="2.5" fill="#4aa8b0"/><rect x="-0.4" y="97.9" width="7" height="2.5" fill="#66d0d6"/><rect x="12" y="97.9" width="7" height="2.5" fill="#66d0d6"/><rect x="25" y="97.9" width="7" height="2.5" fill="#66d0d6"/><rect x="37.5" y="97.9" width="7" height="2.5" fill="#66d0d6"/><rect x="51.3" y="97.9" width="7" height="2.5" fill="#66d0d6"/><rect x="63.5" y="97.9" width="7" height="2.5" fill="#66d0d6"/><rect x="76.4" y="97.9" width="7" height="2.5" fill="#66d0d6"/><rect x="89.4" y="97.9" width="7" height="2.5" fill="#66d0d6"/><rect x="102.8" y="97.9" width="7" height="2.5" fill="#66d0d6"/><rect x="115.7" y="97.9" width="7" height="2.5" fill="#66d0d6"/><rect x="128.5" y="97.9" width="7" height="2.5" fill="#66d0d6"/><rect x="141.7" y="97.9" width="7" height="2.5" fill="#66d0d6"/><rect x="154" y="97.8" width="78.1" height="2.6" fill="#66d0d6"/></g></svg><span class="t ct" style="left:16px;letter-spacing:0.31px">dance music to ...</span><span class="t cs" style="left:16px;letter-spacing:0.28px">Gemini 3 Flash</span></div>
<div class="card" style="left:792px"><svg width="232" height="100" viewBox="0 0 232 100"><rect width="232" height="100" fill="#1a1a2e"/><g filter="url(#tb)" opacity=".86"><rect x="128.3" y="1.9" width="5.6" height="2.1" fill="#3a8088"/><rect x="177.8" y="0.2" width="7.5" height="2.1" fill="#66d0d6"/><rect x="208.6" y="0.2" width="16.9" height="2.1" fill="#66d0d6"/><rect x="9" y="9" width="5.6" height="2.6" fill="#3a8088"/><rect x="203.6" y="8.8" width="8.8" height="3" fill="#3a8088"/><rect x="69.9" y="12.6" width="10" height="3" fill="#3a8088"/><rect x="79.9" y="14.7" width="19.5" height="3" fill="#3a8088"/><rect x="14.7" y="14.5" width="5.6" height="2.8" fill="#3a8088"/><rect x="179.1" y="14.6" width="20.1" height="3.1" fill="#3a8088"/><rect x="20.3" y="18.2" width="5.6" height="2.5" fill="#4aa8b0"/><rect x="59.9" y="18.2" width="10" height="2.5" fill="#4aa8b0"/><rect x="99.4" y="18.2" width="10.7" height="2.5" fill="#4aa8b0"/><rect x="139.6" y="18.1" width="20.1" height="2.8" fill="#4aa8b0"/><rect x="0" y="22" width="10.9" height="2.5" fill="#4aa8b0"/><rect x="14.7" y="22" width="5.6" height="2.5" fill="#4aa8b0"/><rect x="24.7" y="22" width="10.7" height="2.5" fill="#4aa8b0"/><rect x="49.2" y="22" width="11.3" height="2.5" fill="#4aa8b0"/><rect x="110.1" y="22" width="9.4" height="2.5" fill="#4aa8b0"/><rect x="159.6" y="22" width="20.1" height="2.5" fill="#4aa8b0"/><rect x="197.9" y="22" width="34.1" height="2.5" fill="#4aa8b0"/><rect x="119.5" y="23.9" width="20.1" height="2.5" fill="#4aa8b0"/><rect x="39.8" y="28" width="10" height="2.3" fill="#4aa8b0"/><rect x="9" y="31.6" width="6.3" height="2.6" fill="#3a8088"/><rect x="29.1" y="31.6" width="6.3" height="2.6" fill="#3a8088"/><rect x="168.4" y="31.6" width="5.6" height="2.6" fill="#3a8088"/><rect x="182.9" y="31.6" width="6.9" height="2.6" fill="#3a8088"/><rect x="59.2" y="34.9" width="10" height="3" fill="#3a8088"/><rect x="4.6" y="36.7" width="5.6" height="3" fill="#3a8088"/><rect x="24.1" y="36.7" width="5.6" height="3" fill="#3a8088"/><rect x="98.8" y="36.6" width="11.3" height="3.1" fill="#3a8088"/><rect x="163.4" y="36.7" width="5.6" height="3" fill="#3a8088"/><rect x="188.5" y="36.7" width="5.6" height="3" fill="#3a8088"/><rect x="0" y="44" width="5.9" height="2.5" fill="#4aa8b0"/><rect x="19.7" y="44" width="5.6" height="2.5" fill="#4aa8b0"/><rect x="34.8" y="44" width="5.6" height="2.5" fill="#4aa8b0"/><rect x="49.2" y="44" width="10" height="2.5" fill="#4aa8b0"/><rect x="69.3" y="44" width="10" height="2.5" fill="#4aa8b0"/><rect x="109.4" y="44" width="10" height="2.5" fill="#4aa8b0"/><rect x="159" y="44" width="6.3" height="2.5" fill="#4aa8b0"/><rect x="193.5" y="44" width="6.3" height="2.5" fill="#4aa8b0"/><rect x="39.2" y="50.1" width="10.7" height="2.3" fill="#66d0d6"/><rect x="90" y="50.1" width="10" height="2.3" fill="#66d0d6"/><rect x="139.6" y="53.9" width="20.1" height="2.5" fill="#4aa8b0"/><rect x="197.9" y="53.9" width="26.4" height="2.5" fill="#4aa8b0"/><rect x="79.3" y="59.1" width="10.7" height="2.8" fill="#3a8088"/><rect x="119.5" y="62.5" width="20.1" height="3.4" fill="#3a8088"/><rect x="197.9" y="66.3" width="26.4" height="3" fill="#3a8088"/><rect x="39.8" y="79.6" width="40.2" height="2.5" fill="#4aa8b0"/><rect x="0" y="88.5" width="40.4" height="3.3" fill="#3a8088"/><rect x="159.6" y="88.5" width="72.4" height="3.3" fill="#3a8088"/><rect x="79.3" y="94.2" width="40.2" height="2.5" fill="#4aa8b0"/><rect x="119.5" y="97.9" width="40.2" height="2.5" fill="#66d0d6"/></g></svg><span class="t ct" style="left:16px;letter-spacing:0.29px">a beautiful son...</span><span class="t cs" style="left:16px;letter-spacing:0.35px">Gemini 3 Pro</span></div>
<div class="card" style="left:1056px"><svg width="232" height="100" viewBox="0 0 232 100"><rect width="232" height="100" fill="#1a1a2e"/><g filter="url(#tb)" opacity=".86"><rect x="0" y="24" width="8.2" height="2.1" fill="#4aa8b0"/><rect x="6.3" y="28.3" width="8.2" height="2.1" fill="#3a8088"/><rect x="14.4" y="30.1" width="8.8" height="2.1" fill="#3a8088"/><rect x="22" y="34.1" width="8.8" height="2.1" fill="#4aa8b0"/><rect x="29.5" y="38.1" width="16.9" height="2.1" fill="#4aa8b0"/><rect x="44.8" y="24" width="8.2" height="2.1" fill="#4aa8b0"/><rect x="51.1" y="28.3" width="8.2" height="2.1" fill="#3a8088"/><rect x="59.2" y="30.1" width="8.8" height="2.1" fill="#3a8088"/><rect x="66.8" y="34.1" width="8.8" height="2.1" fill="#4aa8b0"/><rect x="74.3" y="38.1" width="16.9" height="2.1" fill="#4aa8b0"/><rect x="90" y="24" width="8.2" height="2.1" fill="#4aa8b0"/><rect x="96.3" y="28.3" width="8.2" height="2.1" fill="#3a8088"/><rect x="104.4" y="30.1" width="8.8" height="2.1" fill="#3a8088"/><rect x="111.9" y="34.1" width="8.8" height="2.1" fill="#4aa8b0"/><rect x="119.5" y="38.1" width="16.9" height="2.1" fill="#4aa8b0"/><rect x="133.9" y="24" width="8.2" height="2.1" fill="#4aa8b0"/><rect x="140.2" y="28.3" width="8.2" height="2.1" fill="#3a8088"/><rect x="148.3" y="30.1" width="8.8" height="2.1" fill="#3a8088"/><rect x="155.9" y="34.1" width="8.8" height="2.1" fill="#4aa8b0"/><rect x="163.4" y="38.1" width="16.9" height="2.1" fill="#4aa8b0"/><rect x="179.7" y="0.1" width="3.8" height="2.3" fill="#4aa8b0"/><rect x="181" y="4.1" width="4.4" height="2.3" fill="#4aa8b0"/><rect x="182.9" y="9.1" width="5.6" height="2.3" fill="#4aa8b0"/><rect x="186" y="14.2" width="5" height="2.3" fill="#4aa8b0"/><rect x="188.5" y="18.2" width="4.4" height="2.3" fill="#4aa8b0"/><rect x="191" y="22.9" width="5" height="2.3" fill="#4aa8b0"/><rect x="194.2" y="28.2" width="3.8" height="2.3" fill="#4aa8b0"/><rect x="196.7" y="33.2" width="5.6" height="2.3" fill="#4aa8b0"/><rect x="199.8" y="38" width="3.8" height="2.3" fill="#4aa8b0"/><rect x="201.7" y="24" width="16.3" height="2.1" fill="#4aa8b0"/><rect x="216.7" y="38.1" width="15.3" height="2.1" fill="#4aa8b0"/><rect x="0" y="70" width="46.1" height="2.3" fill="#4aa8b0"/><rect x="44.2" y="65.9" width="45.8" height="2.3" fill="#4aa8b0"/><rect x="90" y="74.2" width="45.8" height="2.3" fill="#4aa8b0"/><rect x="133.9" y="70" width="50.2" height="2.3" fill="#4aa8b0"/><rect x="201.1" y="70" width="31" height="2.3" fill="#4aa8b0"/><rect x="0" y="94" width="46.1" height="2.3" fill="#4aa8b0"/><rect x="44.2" y="89.8" width="45.8" height="2.3" fill="#4aa8b0"/><rect x="90" y="98" width="45.8" height="2.3" fill="#66d0d6"/><rect x="133.9" y="94" width="50.2" height="2.3" fill="#4aa8b0"/><rect x="201.1" y="94" width="31" height="2.3" fill="#4aa8b0"/></g></svg><span class="t ct" style="left:16px;letter-spacing:0.23px">heavy metal so...</span><span class="t cs" style="left:16px;letter-spacing:0.3px">Mimo V2 Flash</span></div>
<div class="card" style="left:1320px"><svg width="232" height="100" viewBox="0 0 232 100"><rect width="232" height="100" fill="#1a1a2e"/><g filter="url(#tb)" opacity=".86"><path d="M90 36 L232.1 2.1" stroke="#4098a0" stroke-width="3" fill="none" stroke-dasharray="6 0.8"/><path d="M61.1 44.8 L90 36" stroke="#4098a0" stroke-width="3" fill="none" stroke-dasharray="6 0.8"/><path d="M90 40.5 L232.1 6.7" stroke="#4098a0" stroke-width="3" fill="none" stroke-dasharray="6 0.8"/><path d="M61.1 49.3 L90 40.5" stroke="#4098a0" stroke-width="3" fill="none" stroke-dasharray="6 0.8"/><path d="M90 45.3 L232.1 11.4" stroke="#4098a0" stroke-width="3" fill="none" stroke-dasharray="6 0.8"/><path d="M61.1 54.1 L90 45.3" stroke="#4098a0" stroke-width="3" fill="none" stroke-dasharray="6 0.8"/><path d="M90 50.1 L232.1 16.2" stroke="#4098a0" stroke-width="3" fill="none" stroke-dasharray="6 0.8"/><path d="M61.1 58.9 L90 50.1" stroke="#4098a0" stroke-width="3" fill="none" stroke-dasharray="6 0.8"/><path d="M37.3 56.1 L61.1 44.8" stroke="#4098a0" stroke-width="3" fill="none" stroke-dasharray="6 0.8"/><path d="M0 65.5 L37.3 56.1" stroke="#4098a0" stroke-width="3" fill="none" stroke-dasharray="6 0.8"/><path d="M37.3 61.1 L61.1 49.8" stroke="#4098a0" stroke-width="3" fill="none" stroke-dasharray="6 0.8"/><path d="M0 70.5 L37.3 61.1" stroke="#4098a0" stroke-width="3" fill="none" stroke-dasharray="6 0.8"/><path d="M37.3 66.1 L67.4 53" stroke="#4098a0" stroke-width="6" fill="none" opacity="0.6"/><path d="M18.4 71.2 L37.3 66.1" stroke="#4098a0" stroke-width="2.6" fill="none"/><path d="M37.3 71.2 L44.8 68.6" stroke="#4098a0" stroke-width="2.6" fill="none"/><path d="M0 85 L18.4 80.6" stroke="#4098a0" stroke-width="2.6" fill="none"/><path d="M18.4 85 L37.9 80.6" stroke="#4098a0" stroke-width="2.6" fill="none"/><path d="M0 98.8 L19.1 95" stroke="#4098a0" stroke-width="2.6" fill="none"/></g></svg><span class="t ct" style="left:16px;letter-spacing:0.22px">heavy metal so...</span><span class="t cs" style="left:16px;letter-spacing:1.2px">gpt-oss</span></div>
<div class="card" style="left:1584px"><svg width="232" height="100" viewBox="0 0 232 100"><rect width="232" height="100" fill="#1a1a2e"/><g filter="url(#tb)" opacity=".86"><rect x="118.9" y="0" width="11.9" height="2.5" fill="#66d0d6"/><rect x="130.1" y="4.3" width="5" height="2.5" fill="#3a8088"/><rect x="86.8" y="6.3" width="6.3" height="3" fill="#3a8088"/><rect x="191.6" y="6.4" width="5.6" height="2.8" fill="#3a8088"/><rect x="9.7" y="11.3" width="5" height="2.5" fill="#3a8088"/><rect x="72.4" y="11.2" width="6.3" height="2.8" fill="#3a8088"/><rect x="92.5" y="11.2" width="3.8" height="2.8" fill="#3a8088"/><rect x="133.9" y="11.2" width="11.3" height="2.8" fill="#3a8088"/><rect x="184.1" y="11.2" width="4.4" height="2.6" fill="#3a8088"/><rect x="194.8" y="11.2" width="5.6" height="2.6" fill="#3a8088"/><rect x="147.7" y="15.9" width="11.9" height="2.1" fill="#4aa8b0"/><rect x="199.2" y="15.7" width="4.4" height="2.5" fill="#4aa8b0"/><rect x="5.9" y="18.3" width="5.6" height="2.1" fill="#3a8088"/><rect x="64.3" y="18.3" width="8.8" height="2.1" fill="#4aa8b0"/><rect x="78.7" y="17.6" width="8.8" height="2.5" fill="#4aa8b0"/><rect x="93.1" y="18.3" width="8.8" height="2.1" fill="#4aa8b0"/><rect x="159.6" y="18.3" width="5" height="2.1" fill="#4aa8b0"/><rect x="179.7" y="18.3" width="6.3" height="2.1" fill="#3a8088"/><rect x="17.2" y="22.6" width="5" height="2.5" fill="#3a8088"/><rect x="63.6" y="22.5" width="3.8" height="2.8" fill="#3a8088"/><rect x="162.8" y="22.4" width="11.3" height="3" fill="#3a8088"/><rect x="2.8" y="27.1" width="5" height="2.8" fill="#3a8088"/><rect x="31.6" y="27.1" width="5" height="2.8" fill="#3a8088"/><rect x="58" y="27.1" width="6.3" height="2.8" fill="#3a8088"/><rect x="104.4" y="27.1" width="5.6" height="2.8" fill="#3a8088"/><rect x="177.2" y="27.1" width="5.6" height="2.8" fill="#3a8088"/><rect x="202.9" y="26.8" width="29.1" height="3.4" fill="#3a8088"/><rect x="20.3" y="29.9" width="5.6" height="2.1" fill="#3a8088"/><rect x="34.8" y="34.1" width="5.6" height="2.1" fill="#3a8088"/><rect x="46.1" y="34.1" width="5.6" height="2.1" fill="#3a8088"/><rect x="0" y="38.1" width="29.1" height="3.3" fill="#4aa8b0"/><rect x="39.2" y="38.6" width="4.4" height="2.5" fill="#3a8088"/><rect x="49.2" y="38.6" width="5.6" height="2.5" fill="#3a8088"/><rect x="107.6" y="38.4" width="5.6" height="2.8" fill="#3a8088"/><rect x="115.7" y="38.1" width="29.5" height="3.3" fill="#4aa8b0"/><rect x="209.8" y="38.4" width="8.2" height="2.8" fill="#3a8088"/><rect x="44.2" y="42.8" width="14.2" height="3.3" fill="#3a8088"/><rect x="0" y="45.5" width="14.7" height="3" fill="#4aa8b0"/><rect x="29.1" y="45.5" width="14.4" height="3" fill="#4aa8b0"/><rect x="113.2" y="45.5" width="32" height="3" fill="#4aa8b0"/><rect x="202.9" y="45.5" width="29.1" height="3" fill="#4aa8b0"/><rect x="14.7" y="50" width="14.4" height="2.5" fill="#66d0d6"/><rect x="0" y="54" width="14.7" height="3" fill="#4aa8b0"/><rect x="29.1" y="54" width="29.2" height="3" fill="#4aa8b0"/><rect x="115.7" y="54" width="29.5" height="3" fill="#4aa8b0"/><rect x="174.1" y="54" width="14.4" height="3" fill="#4aa8b0"/><rect x="202.9" y="54" width="29.1" height="3" fill="#4aa8b0"/><rect x="14.7" y="56.8" width="14.4" height="3" fill="#3a8088"/><rect x="29.1" y="61.1" width="14.4" height="3" fill="#3a8088"/><rect x="43.5" y="70.1" width="14.8" height="3" fill="#3a8088"/><rect x="0" y="81.9" width="14.7" height="2.5" fill="#4aa8b0"/><rect x="58" y="81.9" width="14.7" height="2.5" fill="#4aa8b0"/><rect x="115.7" y="81.9" width="29.5" height="2.5" fill="#4aa8b0"/><rect x="202.9" y="81.9" width="29.1" height="2.5" fill="#4aa8b0"/><rect x="29.1" y="88.2" width="14.4" height="3.1" fill="#3a8088"/><rect x="87.2" y="88.2" width="14.7" height="3.1" fill="#3a8088"/><rect x="174.1" y="88.2" width="14.4" height="3.1" fill="#3a8088"/><rect x="14.7" y="92.7" width="14.4" height="3.3" fill="#3a8088"/><rect x="72.7" y="92.7" width="14.6" height="3.3" fill="#3a8088"/><rect x="145.2" y="92.7" width="28.9" height="3.3" fill="#3a8088"/><rect x="43.5" y="97.9" width="14.8" height="2.5" fill="#66d0d6"/><rect x="101.5" y="97.9" width="14.8" height="2.5" fill="#66d0d6"/><rect x="188.5" y="97.9" width="15.1" height="2.5" fill="#66d0d6"/></g></svg><span class="t ct" style="left:16px;letter-spacing:0.27px">a peaceful song...</span><span class="t cs" style="left:16px;letter-spacing:0.29px">Gemini 3 Flash</span></div>
<div class="card" style="left:1848px"><svg width="232" height="100" viewBox="0 0 232 100"><rect width="232" height="100" fill="#1a1a2e"/><g filter="url(#tb)" opacity=".86"><rect x="28.8" y="0.2" width="11.6" height="2.1" fill="#66d0d6"/><rect x="8.9" y="6.6" width="10.3" height="3" fill="#3a8088"/><rect x="19.9" y="4.6" width="9.6" height="3" fill="#3a8088"/><rect x="48.6" y="6.6" width="6.2" height="3" fill="#3a8088"/><rect x="0" y="12.2" width="11" height="2.1" fill="#4aa8b0"/><rect x="37.7" y="12.2" width="12.3" height="2.1" fill="#4aa8b0"/><rect x="19.2" y="63.9" width="20.5" height="2.3" fill="#4aa8b0"/><rect x="0" y="68.6" width="19.9" height="3.1" fill="#3a8088"/><rect x="37.7" y="68.6" width="17.1" height="3.1" fill="#3a8088"/><rect x="19.9" y="92.6" width="19.2" height="3.1" fill="#3a8088"/><rect x="0" y="97.8" width="19.9" height="2.3" fill="#66d0d6"/><rect x="37.7" y="97.8" width="17.1" height="2.3" fill="#66d0d6"/></g></svg><span class="t ct" style="left:16px;letter-spacing:0.55px">techno banger ...</span><span class="t cs" style="left:16px;letter-spacing:0.6px">Mimo V2 Flash</span></div>
</div>

</body>
</html>
